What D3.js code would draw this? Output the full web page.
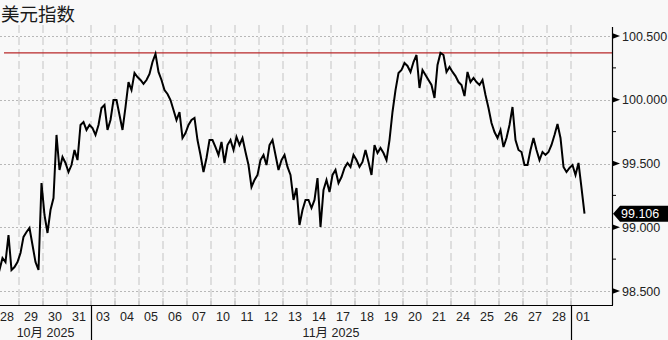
<!DOCTYPE html>
<html><head><meta charset="utf-8">
<script src="https://cdn.jsdelivr.net/npm/d3@7"></script>
<style>
html,body{margin:0;padding:0;background:#f8f8f8;}
svg{display:block;}
</style></head>
<body>
<svg id="c" width="668" height="340"></svg>
<script>
// ---- data ----
const title = "美元指数";
const dayLabels = ["28","29","30","31","03","04","05","06","07","10","11","12","13","14","17","18","19","20","21","24","25","26","27","28","01"];
const monthLabels = ["10月 2025","11月 2025"];
const monthStartIdx = [0, 4, 24];
const yTicks = [98.5, 99.0, 99.5, 100.0, 100.5];
const yMinorTicks = [98.75, 99.25, 99.75, 100.25];
const highLevel = 100.367;
const lastValue = 99.106;
// 3-hourly closes for each trading day (8 slots per day)
const d1028 = [98.727, 98.665, 98.759, 98.727, 98.939, 98.665, 98.688, 98.727];
const d1029 = [98.798, 98.924, 98.963, 98.994, 98.861, 98.727, 98.665, 99.347];
const d1030 = [99.096, 98.955, 99.135, 99.229, 99.724, 99.449, 99.551, 99.504];
const d1031 = [99.433, 99.488, 99.606, 99.527, 99.802, 99.825, 99.763, 99.802];
const d1103 = [99.778, 99.724, 99.802, 99.935, 99.959, 99.763, 99.841, 99.998];
const d1104 = [99.998, 99.880, 99.763, 99.943, 100.139, 100.076, 100.210, 100.178];
const d1105 = [100.155, 100.124, 100.155, 100.202, 100.296, 100.360, 100.218, 100.155];
const d1106 = [100.076, 100.045, 99.998, 99.920, 99.841, 99.904, 99.700, 99.739];
const d1107 = [99.802, 99.841, 99.857, 99.684, 99.567, 99.433, 99.543, 99.684];
const d1110 = [99.684, 99.629, 99.567, 99.669, 99.504, 99.645, 99.684, 99.606];
const d1111 = [99.708, 99.645, 99.700, 99.590, 99.488, 99.316, 99.371, 99.410];
const d1112 = [99.527, 99.567, 99.488, 99.645, 99.684, 99.567, 99.449, 99.527];
const d1113 = [99.567, 99.473, 99.410, 99.214, 99.308, 99.018, 99.135, 99.214];
const d1114 = [99.214, 99.151, 99.214, 99.386, 99.002, 99.292, 99.371, 99.276];
const d1117 = [99.410, 99.449, 99.347, 99.394, 99.465, 99.504, 99.473, 99.567];
const d1118 = [99.527, 99.473, 99.512, 99.606, 99.512, 99.410, 99.645, 99.582];
const d1119 = [99.622, 99.582, 99.527, 99.684, 99.904, 100.076, 100.210, 100.233];
const d1120 = [100.288, 100.265, 100.218, 100.296, 100.351, 100.092, 100.233, 100.194];
const d1121 = [100.155, 100.116, 100.014, 100.273, 100.367, 100.351, 100.218, 100.257];
const d1124 = [100.218, 100.186, 100.139, 100.116, 100.029, 100.218, 100.139, 100.171];
const d1125 = [100.139, 100.116, 100.155, 100.037, 99.935, 99.818, 99.747, 99.700];
const d1126 = [99.763, 99.629, 99.700, 99.802, 99.943, 99.684, 99.606, 99.590];
const d1127 = [99.488, 99.488, 99.606, 99.700, 99.606, 99.527, 99.590, 99.567];
const d1128 = [99.590, 99.645, 99.724, 99.810, 99.700, 99.473, 99.433, 99.465];
const d1201 = [99.488, 99.410, 99.504, 99.308, 99.106];
const dayValues = [d1028,d1029,d1030,d1031,d1103,d1104,d1105,d1106,d1107,d1110,d1111,d1112,d1113,d1114,d1117,d1118,d1119,d1120,d1121,d1124,d1125,d1126,d1127,d1128,d1201];
const slotsPerDay = 8;

// ---- layout ----
const W = 668, H = 340;
const plot = {left: 0, right: 612, top: 25, bottom: 305};
const svg = d3.select("#c");
svg.append("rect").attr("width", W).attr("height", H).attr("fill", "#f8f8f8");

const x = d3.scaleLinear().domain([0, 25]).range([-5, 595]);
const y = d3.scaleLinear().domain([98.5, 100.5]).range([291, 36]);

const points = [];
dayValues.forEach((arr, k) => arr.forEach((v, j) => points.push({t: k + (j + 0.5) / slotsPerDay, v})));

// title
svg.append("text").attr("x", 1).attr("y", 21)
  .attr("font-family", "'Noto Sans CJK SC', sans-serif").attr("font-size", 18.5)
  .attr("fill", "#1a1a1a").text(title);

// clip
svg.append("clipPath").attr("id", "pc").append("rect")
  .attr("x", plot.left).attr("y", plot.top).attr("width", plot.right - plot.left).attr("height", plot.bottom - plot.top);

// vertical grid (day boundaries)
const bounds = d3.range(1, 25);
svg.append("g").selectAll("line").data(bounds).join("line")
  .attr("x1", d => x(d)).attr("x2", d => x(d))
  .attr("y1", plot.top).attr("y2", plot.bottom)
  .attr("stroke", "#c4c4c4").attr("stroke-width", 1).attr("stroke-dasharray", "8,4");

// horizontal grid
svg.append("g").selectAll("line").data(yTicks).join("line")
  .attr("x1", plot.left).attr("x2", plot.right)
  .attr("y1", d => Math.round(y(d)) + 0.5).attr("y2", d => Math.round(y(d)) + 0.5)
  .attr("stroke", "#b8b8b8").attr("stroke-width", 1).attr("stroke-dasharray", "2,2");

// high level red line
svg.append("line").attr("x1", x(0.375)).attr("x2", plot.right)
  .attr("y1", y(highLevel)).attr("y2", y(highLevel))
  .attr("stroke", "#b8282a").attr("stroke-width", 1.3);

// series
const line = d3.line().x(d => x(d.t)).y(d => y(d.v)).curve(d3.curveLinear);
svg.append("path").datum(points).attr("clip-path", "url(#pc)")
  .attr("d", line).attr("fill", "none").attr("stroke", "#000")
  .attr("stroke-width", 2).attr("stroke-linejoin", "miter");

// right axis
const font = "'Liberation Sans', Arial, sans-serif";
const ra = svg.append("g");
ra.append("line").attr("x1", plot.right + 0.5).attr("x2", plot.right + 0.5)
  .attr("y1", 27).attr("y2", plot.bottom).attr("stroke", "#000").attr("stroke-width", 1.2);
ra.selectAll("path.tri").data(yTicks).join("path").attr("class", "tri")
  .attr("d", d => `M${plot.right},${y(d) - 3} L${plot.right + 8},${y(d)} L${plot.right},${y(d) + 3} Z`)
  .attr("fill", "#000");
ra.selectAll("line.minor").data(yMinorTicks).join("line").attr("class", "minor")
  .attr("x1", plot.right).attr("x2", plot.right + 4)
  .attr("y1", d => y(d)).attr("y2", d => y(d)).attr("stroke", "#000");
ra.selectAll("text").data(yTicks).join("text")
  .attr("x", 622).attr("y", d => y(d)).attr("dy", "0.36em")
  .attr("font-family", font).attr("font-size", 12.5).attr("fill", "#222")
  .text(d => d3.format(".3f")(d));

// last value flag
const ly = y(lastValue);
svg.append("path")
  .attr("d", `M${plot.right + 1},${ly} L${plot.right + 8},${ly - 8} L${W},${ly - 8} L${W},${ly + 8} L${plot.right + 8},${ly + 8} Z`)
  .attr("fill", "#000");
svg.append("text").attr("x", 621).attr("y", ly).attr("dy", "0.36em")
  .attr("font-family", font).attr("font-size", 12.5).attr("fill", "#fff")
  .text(d3.format(".3f")(lastValue));

// bottom axis
const ba = svg.append("g");
ba.append("line").attr("x1", plot.left).attr("x2", plot.right + 1)
  .attr("y1", plot.bottom + 0.5).attr("y2", plot.bottom + 0.5).attr("stroke", "#000").attr("stroke-width", 1.2);
ba.selectAll("line.tk").data(bounds).join("line").attr("class", "tk")
  .attr("x1", d => x(d)).attr("x2", d => x(d))
  .attr("y1", plot.bottom - 7).attr("y2", plot.bottom).attr("stroke", "#bbb");
ba.selectAll("text.day").data(dayLabels).join("text").attr("class", "day")
  .attr("x", (d, i) => Math.max(x(i + 0.5), 6)).attr("y", 321)
  .attr("text-anchor", "middle").attr("font-family", font).attr("font-size", 12.5).attr("fill", "#222")
  .text(d => d);
// month separators
ba.selectAll("line.ms").data(monthStartIdx.slice(1)).join("line").attr("class", "ms")
  .attr("x1", d => Math.round(x(d)) + 0.5).attr("x2", d => Math.round(x(d)) + 0.5)
  .attr("y1", plot.bottom).attr("y2", H).attr("stroke", "#000").attr("stroke-width", 1.2);
ba.selectAll("text.mon").data(monthLabels).join("text").attr("class", "mon")
  .attr("x", (d, i) => (Math.max(x(monthStartIdx[i]), plot.left) + x(monthStartIdx[i + 1])) / 2)
  .attr("y", 337).attr("text-anchor", "middle")
  .attr("font-family", "'Liberation Sans', 'Noto Sans CJK SC', sans-serif").attr("font-size", 12.5).attr("fill", "#222")
  .text(d => d);
</script>
</body></html>
